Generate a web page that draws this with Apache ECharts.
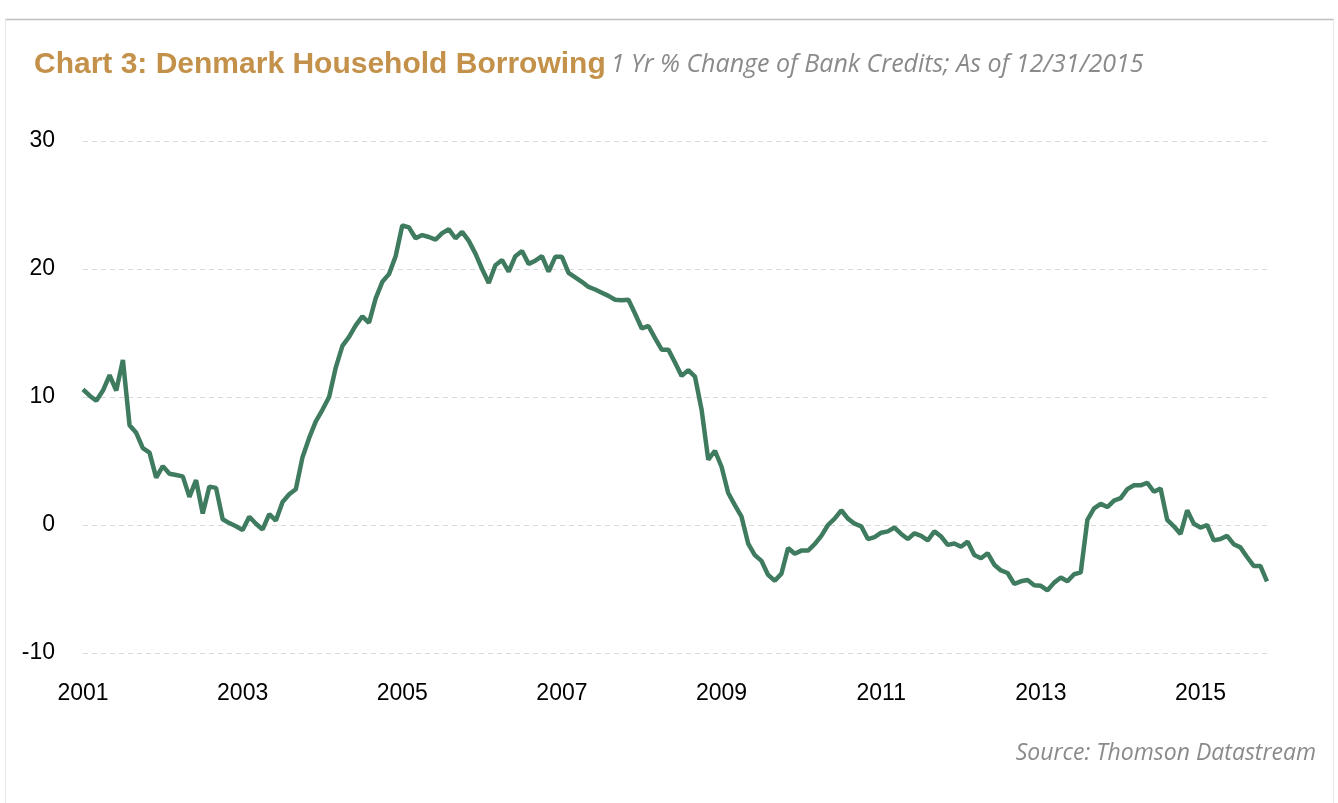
<!DOCTYPE html>
<html><head><meta charset="utf-8">
<script src="https://cdn.jsdelivr.net/npm/echarts@6/dist/echarts.min.js"></script>
<style>html,body{margin:0;padding:0;background:#fff}#c{width:1338px;height:803px}</style>
</head><body><div id="c"></div>
<script>
const startYear = 2001;
const monthCount = 179;
const values = [
10.6,10.1,9.7,10.5,11.7,10.5,12.9,7.8,7.2,6.0,5.65,3.7,
4.6,4.0,3.9,3.8,2.2,3.5,0.9,3.0,2.9,0.45,0.15,-0.1,
-0.4,0.65,0.1,-0.35,0.85,0.35,1.8,2.4,2.8,5.3,6.8,8.1,
9.0,10.0,12.3,14.0,14.7,15.6,16.3,15.8,17.7,19.0,19.6,21.0,
23.4,23.25,22.4,22.65,22.5,22.3,22.8,23.1,22.4,22.9,22.2,21.2,
20.0,18.9,20.3,20.7,19.8,21.0,21.4,20.4,20.65,21.0,19.8,20.95,
20.95,19.7,19.35,19.0,18.6,18.4,18.15,17.9,17.6,17.55,17.6,16.5,
15.35,15.55,14.6,13.7,13.7,12.7,11.65,12.1,11.6,9.0,5.1,5.8,
4.55,2.5,1.55,0.65,-1.45,-2.35,-2.8,-3.9,-4.35,-3.8,-1.8,-2.25,
-2.0,-2.0,-1.5,-0.85,0.0,0.5,1.15,0.5,0.1,-0.1,-1.1,-0.95,
-0.6,-0.5,-0.2,-0.7,-1.1,-0.65,-0.85,-1.2,-0.5,-0.9,-1.55,-1.45,
-1.7,-1.3,-2.35,-2.6,-2.2,-3.1,-3.55,-3.75,-4.6,-4.4,-4.3,-4.7,
-4.75,-5.1,-4.5,-4.1,-4.4,-3.85,-3.7,0.4,1.3,1.65,1.4,1.9,
2.1,2.8,3.1,3.1,3.3,2.6,2.85,0.4,-0.1,-0.7,1.15,0.1,
-0.2,0.0,-1.2,-1.1,-0.85,-1.5,-1.75,-2.5,-3.2,-3.2,-4.4
];
const categories = [];
for (let i = 0; i < monthCount; i++) {
  const y = startYear + Math.floor(i / 12), m = (i % 12) + 1;
  categories.push(y + '-' + (m < 10 ? '0' + m : m));
}
const yTicks = [-10, 0, 10, 20, 30];
const titleMain = 'Chart 3: Denmark Household Borrowing';
const titleSub = '1 Yr % Change of Bank Credits; As of 12/31/2015';
const sourceText = 'Source: Thomson Datastream';

const chart = echarts.init(document.getElementById('c'));
chart.setOption({
  animation: false,
  backgroundColor: '#ffffff',
  title: {
    left: 29, top: 45,
    text: '{a|' + titleMain + '} {b|' + titleSub + '}',
    textStyle: {
      fontWeight: 'normal',
      rich: {
        a: { fontFamily: 'Liberation Sans, Arial, sans-serif', fontWeight: 'bold', fontSize: 30, color: '#C4914A' },
        b: { fontFamily: 'Open Sans, sans-serif', fontStyle: 'italic', fontWeight: 'normal', fontSize: 25, color: '#8a8a8a' }
      }
    }
  },
  graphic: [
    { type: 'line', shape: { x1: 5, y1: 19.5, x2: 1334, y2: 19.5 }, style: { stroke: '#bfbfbf', lineWidth: 1.5 } },
    { type: 'line', shape: { x1: 5.5, y1: 19, x2: 5.5, y2: 803 }, style: { stroke: '#e6e6e6', lineWidth: 1 } },
    { type: 'line', shape: { x1: 1333.5, y1: 19, x2: 1333.5, y2: 803 }, style: { stroke: '#e6e6e6', lineWidth: 1 } },
    { type: 'text', right: 22, top: 742, style: { text: sourceText, fontFamily: 'Open Sans, sans-serif', fontStyle: 'italic', fontSize: 23, fill: '#8a8a8a' } }
  ],
  grid: { left: 83, right: 71, top: 141, bottom: 150, containLabel: false },
  xAxis: {
    type: 'category',
    data: categories,
    boundaryGap: false,
    axisLine: { show: false },
    axisTick: { show: false },
    splitLine: { show: false },
    axisLabel: {
      interval: function (i) { return i % 24 === 0; },
      formatter: function (v) { return v.slice(0, 4); },
      fontFamily: 'Liberation Sans, Arial, sans-serif', fontSize: 23, color: '#000', margin: 29
    }
  },
  yAxis: {
    type: 'value',
    min: yTicks[0], max: yTicks[yTicks.length - 1], interval: 10,
    axisLine: { show: false },
    axisTick: { show: false },
    splitLine: { lineStyle: { color: '#d9d9d9', type: [5, 4], width: 1 } },
    axisLabel: { fontFamily: 'Liberation Sans, Arial, sans-serif', fontSize: 23, color: '#000', margin: 28 }
  },
  series: [{
    type: 'line',
    data: values,
    symbol: 'none',
    lineStyle: { color: '#3F7B5E', width: 4.5 },
    smooth: false
  }]
});
</script></body></html>
